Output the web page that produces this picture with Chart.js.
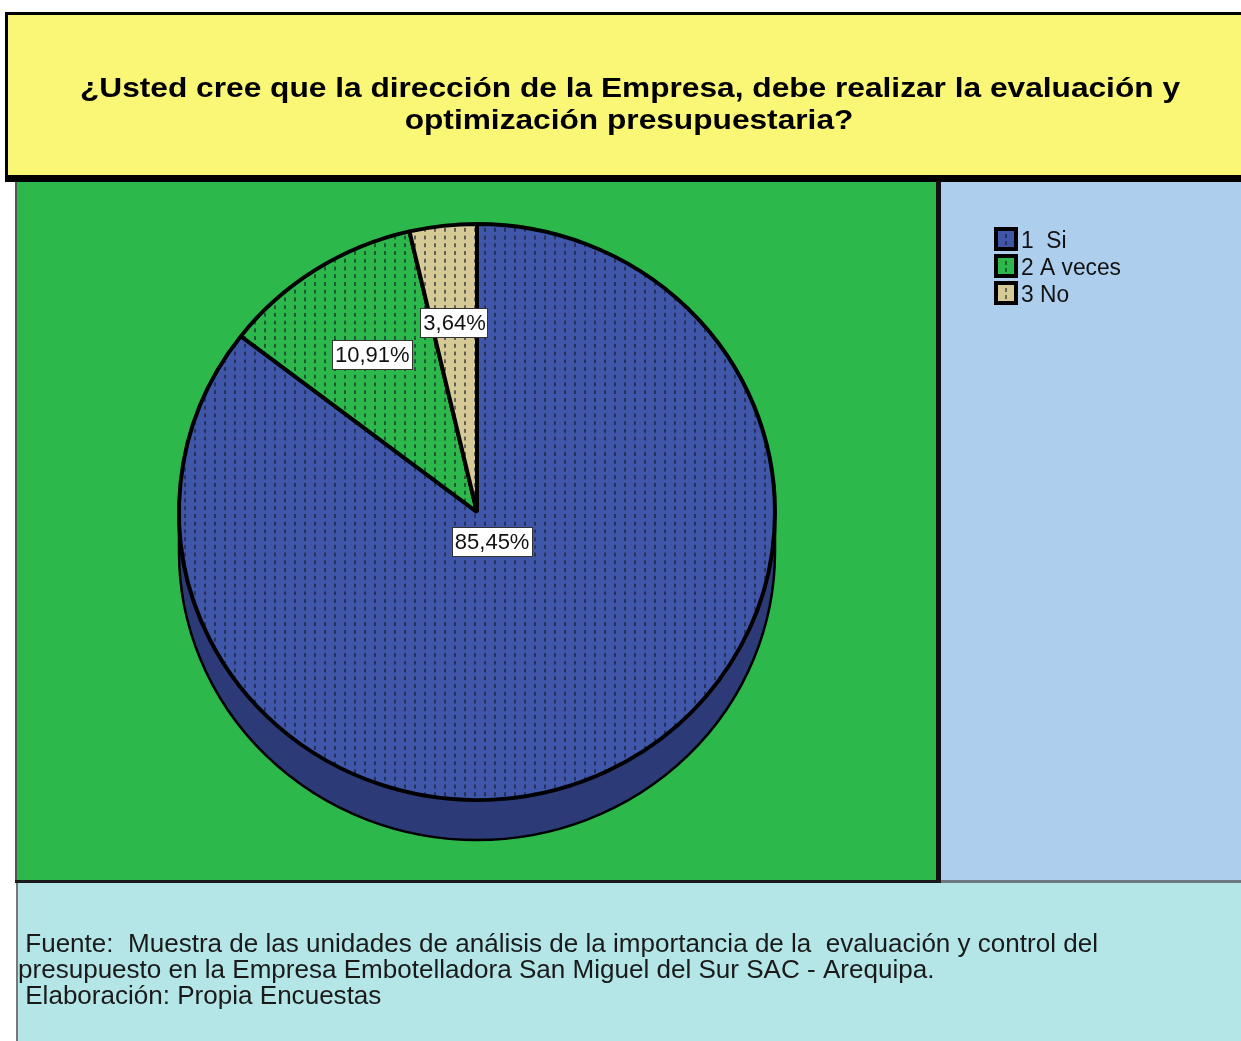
<!DOCTYPE html>
<html>
<head>
<meta charset="utf-8">
<script src="https://cdn.jsdelivr.net/npm/chart.js@4/dist/chart.umd.min.js"></script>
<style>
  html, body { margin: 0; padding: 0; background: #fff; overflow: hidden; }
  #c { display: block; }
</style>
</head>
<body>
<canvas id="c" width="1241" height="1041"></canvas>
<script>
// ---------------- data ----------------
const categories = ['1  Si', '2 A veces', '3 No'];
const percentValues = [85.45, 10.91, 3.64];
const sliceColors = ['#3f56a9', '#2db84b', '#d6cb97'];
const titleLines = [
  '¿Usted cree que la dirección de la Empresa, debe realizar la evaluación y',
  'optimización presupuestaria?'
];
const footerLines = [
  ' Fuente:  Muestra de las unidades de análisis de la importancia de la  evaluación y control del',
  'presupuesto en la Empresa Embotelladora San Miguel del Sur SAC - Arequipa.',
  ' Elaboración: Propia Encuestas'
];
// label radial placement (fraction of radius) per slice – styling only
const labelRadialFrac = [0.115, 0.65, 0.66];

const W = 1241, H = 1041;
const TILT = 289 / 299;      // vertical squash of the pie (3-D look)
const DEPTH = 40;            // side thickness in px
const SIDE_COLOR = '#2c3b78';

function formatPct(v) { return v.toFixed(2).replace('.', ',') + '%'; }

function makePattern(color, dot) {
  const c = document.createElement('canvas');
  c.width = 10; c.height = 8;
  const g = c.getContext('2d');
  g.fillStyle = color; g.fillRect(0, 0, 10, 8);
  g.fillStyle = dot; g.fillRect(4, 2, 2, 4);
  return g.createPattern(c, 'repeat');
}
const ctx0 = document.getElementById('c').getContext('2d');
const patterns = sliceColors.map(col => makePattern(col, 'rgba(20,25,40,0.6)'));

function drawFitted(ctx, text, x, y, scale) {
  ctx.save();
  ctx.translate(x, y);
  ctx.scale(scale, 1);
  ctx.fillText(text, 0, 0);
  ctx.restore();
}

// ---------------- plugins ----------------
const framePlugin = {
  id: 'frame',
  beforeDraw(chart) {
    const ctx = chart.ctx;
    ctx.save();
    ctx.fillStyle = '#ffffff'; ctx.fillRect(0, 0, W, H);
    // title box
    ctx.fillStyle = '#000'; ctx.fillRect(5, 12, W - 5, 170);
    ctx.fillStyle = '#faf676'; ctx.fillRect(8, 15, W - 8, 160);
    // plot area
    ctx.fillStyle = '#555'; ctx.fillRect(15, 182, 2, 700);
    ctx.fillStyle = '#2db84b'; ctx.fillRect(17, 182, 919, 698);
    ctx.fillStyle = '#111'; ctx.fillRect(936, 181, 5, 702);
    ctx.fillStyle = '#adcfed'; ctx.fillRect(941, 182, W - 941, 698);
    ctx.fillStyle = '#1a1a1a'; ctx.fillRect(15, 880, 926, 3);
    ctx.fillStyle = '#6f7a80'; ctx.fillRect(941, 880, W - 941, 3);
    // footer
    ctx.fillStyle = '#b4e6e7'; ctx.fillRect(17, 883, W - 17, H - 883);
    ctx.fillStyle = '#777'; ctx.fillRect(16, 883, 2, H - 883);

    // title text
    ctx.fillStyle = '#000';
    ctx.font = 'bold 28px "Liberation Sans", Arial, sans-serif';
    ctx.textBaseline = 'alphabetic';
    ctx.textAlign = 'center';
    const tw = ctx.measureText(titleLines[0]).width;
    const ts = Math.min(1.2, 1100 / tw);
    drawFitted(ctx, titleLines[0], 630, 97, ts);
    drawFitted(ctx, titleLines[1], 629, 129, ts);

    // footer text
    ctx.fillStyle = '#1a1a1a';
    ctx.font = '25px "Liberation Sans", Arial, sans-serif';
    ctx.textAlign = 'left';
    const fw = ctx.measureText(footerLines[0]).width;
    const fs = 1080 / fw;
    footerLines.forEach((t, i) => drawFitted(ctx, t, 18, 952 + i * 26, fs));
    ctx.restore();
  }
};

const pie3dPlugin = {
  id: 'pie3d',
  beforeDatasetsDraw(chart) {
    const arc = chart.getDatasetMeta(0).data[0];
    if (!arc) return;
    const ctx = chart.ctx;
    const cx = arc.x, cy = arc.y, R = arc.outerRadius;
    ctx.save();
    ctx.translate(cx, cy);
    ctx.scale(1, TILT);
    ctx.translate(-cx, -cy);
    const D = DEPTH / TILT;
    // side of the cylinder
    ctx.beginPath();
    ctx.moveTo(cx + R, cy);
    ctx.lineTo(cx + R, cy + D);
    ctx.arc(cx, cy + D, R, 0, Math.PI, false);
    ctx.lineTo(cx - R, cy);
    ctx.closePath();
    ctx.fillStyle = SIDE_COLOR;
    ctx.fill();
    ctx.beginPath();
    ctx.arc(cx, cy + D, R, 0, Math.PI, false);
    ctx.lineWidth = 2.5;
    ctx.strokeStyle = '#000';
    ctx.stroke();
    ctx.beginPath();
    ctx.moveTo(cx - R, cy); ctx.lineTo(cx - R, cy + D);
    ctx.moveTo(cx + R, cy); ctx.lineTo(cx + R, cy + D);
    ctx.stroke();
  },
  afterDatasetsDraw(chart) {
    chart.ctx.restore();
  }
};

const labelPlugin = {
  id: 'sliceLabels',
  afterDraw(chart) {
    const ctx = chart.ctx;
    const meta = chart.getDatasetMeta(0);
    const vals = chart.data.datasets[0].data;
    ctx.save();
    ctx.font = '22px "Liberation Sans", Arial, sans-serif';
    ctx.textAlign = 'center';
    ctx.textBaseline = 'middle';
    meta.data.forEach((arc, i) => {
      const mid = (arc.startAngle + arc.endAngle) / 2;
      const r = arc.outerRadius * labelRadialFrac[i];
      const x = arc.x + Math.cos(mid) * r;
      const y = arc.y + Math.sin(mid) * r * TILT;
      const txt = formatPct(vals[i]);
      const w = ctx.measureText(txt).width + 6;
      const h = 30;
      ctx.fillStyle = '#ffffff';
      ctx.fillRect(Math.round(x - w / 2), Math.round(y - h / 2), Math.round(w), h);
      ctx.strokeStyle = '#333';
      ctx.lineWidth = 1;
      ctx.strokeRect(Math.round(x - w / 2) + 0.5, Math.round(y - h / 2) + 0.5, Math.round(w) - 1, h - 1);
      ctx.fillStyle = '#111';
      ctx.fillText(txt, x, y + 1);
    });

    // legend
    const legX = 994, legY0 = 227, step = 27, box = 24;
    ctx.textAlign = 'left';
    ctx.textBaseline = 'alphabetic';
    ctx.font = '23px "Liberation Sans", Arial, sans-serif';
    const lw = ctx.measureText(chart.data.labels[1]).width;
    const ls = 100 / lw;
    chart.data.labels.forEach((lab, i) => {
      const y = legY0 + i * step;
      ctx.fillStyle = '#000';
      ctx.fillRect(legX, y, box, box);
      ctx.fillStyle = sliceColors[i];
      ctx.fillRect(legX + 4, y + 4, box - 8, box - 8);
      ctx.fillStyle = 'rgba(20,25,40,0.55)';
      ctx.fillRect(legX + 11, y + 7, 2, 4);
      ctx.fillRect(legX + 11, y + 14, 2, 4);
      ctx.fillStyle = '#111';
      drawFitted(ctx, lab, 1021, y + 21, ls);
    });
    ctx.restore();
  }
};

// ---------------- chart ----------------
new Chart(ctx0, {
  type: 'pie',
  data: {
    labels: categories,
    datasets: [{
      data: percentValues,
      backgroundColor: patterns,
      borderColor: '#000',
      borderWidth: 4,
      clip: false
    }]
  },
  options: {
    responsive: false,
    devicePixelRatio: 1,
    animation: false,
    layout: { padding: { left: 177, right: 464, top: 212, bottom: 229 } },
    plugins: {
      legend: { display: false },
      tooltip: { enabled: false },
      title: { display: false }
    },
    events: []
  },
  plugins: [framePlugin, pie3dPlugin, labelPlugin]
});
</script>
</body>
</html>
